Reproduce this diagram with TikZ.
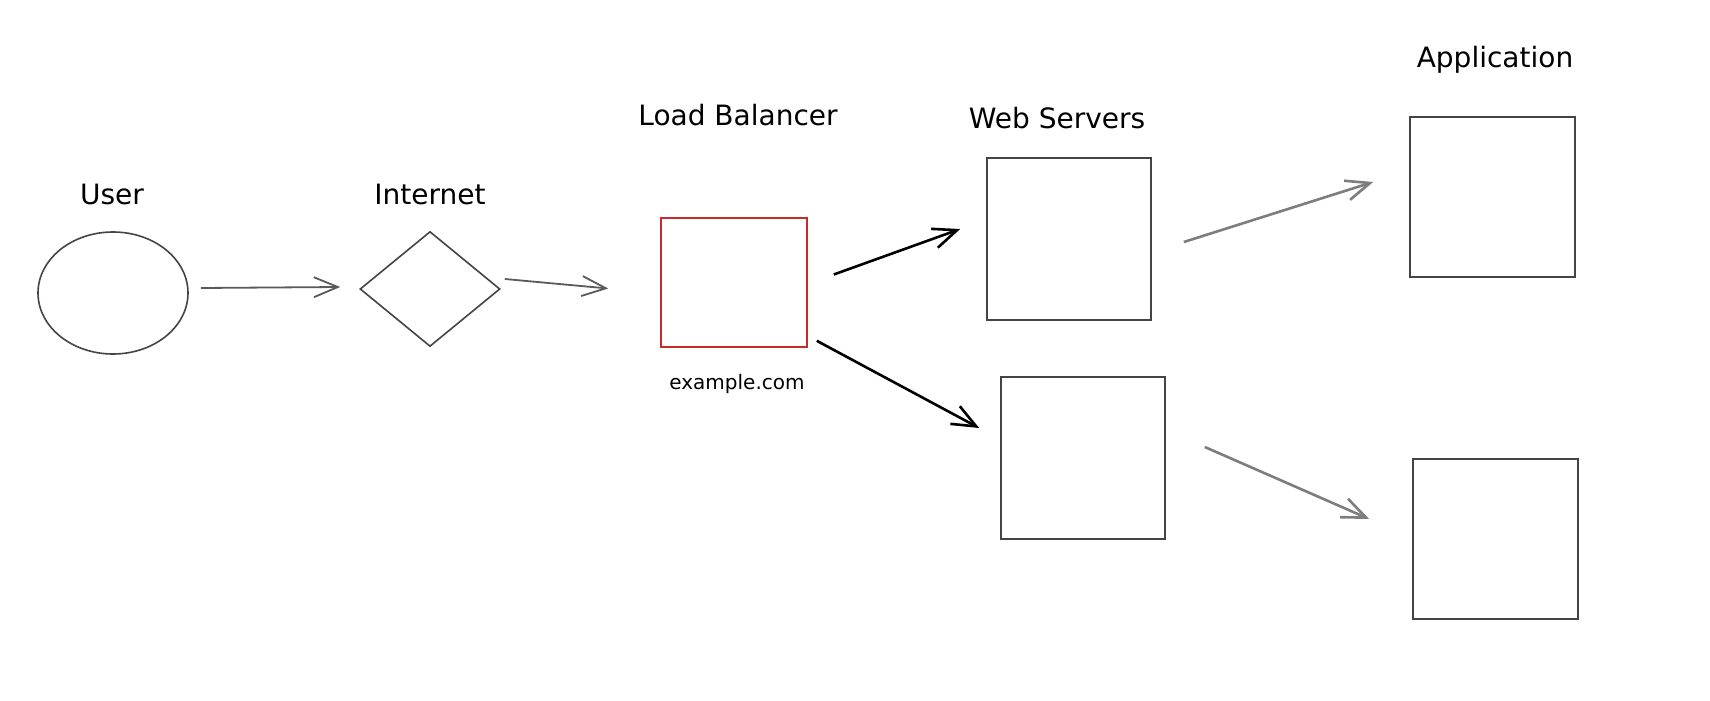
\documentclass[tikz,border=0pt]{standalone}
\usepackage{fontspec}
\setmainfont{DejaVu Sans}
\usetikzlibrary{shapes.geometric,arrows.meta,calc}
\definecolor{shapegray}{RGB}{68,68,68}
\definecolor{lbred}{RGB}{201,42,42}
\definecolor{arrgray}{RGB}{90,90,90}
\definecolor{arrlight}{RGB}{125,125,125}
\tikzset{
  box/.style={draw=shapegray, line width=1.6pt, rectangle, inner sep=0pt},
  lbl/.style={font=\fontsize{28}{34}\selectfont, text=black, inner sep=0pt},
  small/.style={font=\fontsize{20}{24}\selectfont, text=black, inner sep=0pt},
  arr/.style={line width=1.8pt, draw=arrgray, -{Straight Barb[length=24pt,width=20pt,line width=1.8pt]}},
  arrdark/.style={line width=2.6pt, draw=black, -{Straight Barb[length=24pt,width=20pt,line width=2.6pt]}},
  arrlt/.style={line width=2.6pt, draw=arrlight, -{Straight Barb[length=24pt,width=20pt,line width=2.6pt]}}
}
\begin{document}
\begin{tikzpicture}[x=1pt,y=-1pt]
\path[use as bounding box, fill=white] (0,0) rectangle (1710,701);

\node[draw=shapegray, line width=1.6pt, ellipse, minimum width=150pt, minimum height=122pt, inner sep=0pt] (user) at (113,293) {};
\node[draw=shapegray, line width=1.6pt, diamond, minimum width=140pt, minimum height=115pt, inner sep=0pt] (inet) at (430,289) {};
\node[box, draw=lbred, minimum width=146pt, minimum height=129pt] (lb) at (734,282.5) {};
\node[box, minimum width=164pt, minimum height=162pt] (ws1) at (1069,239) {};
\node[box, minimum width=164pt, minimum height=162pt] (ws2) at (1083,458) {};
\node[box, minimum width=165pt, minimum height=160pt] (app1) at (1492.5,197) {};
\node[box, minimum width=165pt, minimum height=160pt] (app2) at (1495.5,539) {};

\node[lbl] (tuser) at (112,194) {User};
\node[lbl] (tinet) at (430,194) {Internet};
\node[lbl] (tlb) at (738,115) {Load Balancer};
\node[lbl] (tws) at (1057,118) {Web Servers};
\node[lbl] (tapp) at (1495,60) {Application};
\node[small] (tex) at (737,384) {example.com};

\draw[arr] ($(user.east)+(12,-5)$) -- ($(inet.west)+(-19,-2)$);
\draw[arr] ($(inet.east)+(4,-10)$) -- ($(lb.west)+(-52,6)$);
\draw[arrdark] ($(lb.east)+(26,-8)$) -- ($(ws1.west)+(-26,-10)$);
\draw[arrdark] ($(lb.south east)+(9,-7)$) -- ($(ws2.west)+(-21,-30)$);
\draw[arrlt] ($(ws1.east)+(32,3)$) -- ($(app1.west)+(-36,-15)$);
\draw[arrlt] ($(ws2.east)+(39,-11)$) -- ($(app2.west)+(-43,-20)$);
\end{tikzpicture}
\end{document}
